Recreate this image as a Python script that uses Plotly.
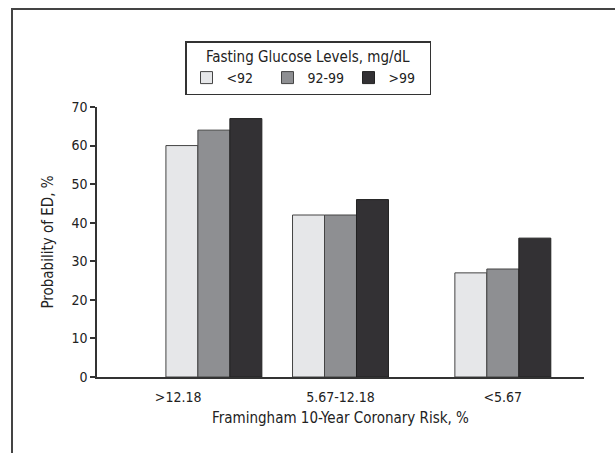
import plotly.graph_objects as go

categories = [">12.18", "5.67-12.18", "<5.67"]
series_names = ["<92", "92-99", ">99"]
glucose_lt92 = [60, 42, 27]
glucose_92_99 = [64, 42, 28]
glucose_gt99 = [67, 46, 36]
y_ticks = [0, 10, 20, 30, 40, 50, 60, 70]

series_values = [glucose_lt92, glucose_92_99, glucose_gt99]
colors = ["#e6e7e9", "#8e8f92", "#333134"]
outline = ["#444444", "#444444", "#222222"]
FONT = "DejaVu Sans Condensed, Liberation Sans Narrow, Arial Narrow, sans-serif"

bar_w = 0.197
group_shift = [0.22, 0.0, 0.0]

fig = go.Figure()
for i, (name, vals) in enumerate(zip(series_names, series_values)):
    offs = [-1.5 * bar_w + i * bar_w + s for s in group_shift]
    fig.add_trace(go.Bar(
        x=categories, y=vals, name=name,
        width=[bar_w] * len(categories), offset=offs,
        marker=dict(color=colors[i], line=dict(color=outline[i], width=1)),
    ))

fig.update_layout(
    width=615, height=453,
    margin=dict(l=97, r=31, t=107, b=76, autoexpand=False),
    paper_bgcolor="white", plot_bgcolor="white",
    font=dict(family=FONT, size=14, color="#222"),
    barmode="overlay",
    showlegend=True,
    legend=dict(
        orientation="h",
        title=dict(text="Fasting Glucose Levels, mg/dL", side="top center",
                   font=dict(size=15)),
        x=(308 - 97) / 487, xanchor="center", y=(377 - 41) / 270, yanchor="top",
        bordercolor="#333", borderwidth=1.5, bgcolor="white",
        entrywidth=36, entrywidthmode="pixels",
        font=dict(size=14),
        traceorder="normal",
    ),
    xaxis=dict(
        type="category", range=[-0.5, 2.5],
        showline=True, linecolor="#333", linewidth=1.5,
        ticks="", showgrid=False, zeroline=False,
        tickfont=dict(size=14), ticklabelstandoff=6,
        title=dict(text="Framingham 10-Year Coronary Risk, %", font=dict(size=15), standoff=9),
    ),
    yaxis=dict(
        range=[0, 70], tickvals=y_ticks,
        showline=True, linecolor="#333", linewidth=1.5,
        ticks="outside", ticklen=5, tickcolor="#333", tickwidth=1.5,
        showgrid=False, zeroline=False,
        tickfont=dict(size=14),
        title=dict(text="Probability of ED, %", font=dict(size=15), standoff=14),
    ),
    shapes=[dict(type="rect", xref="paper", yref="paper",
                 x0=(12 - 97) / 487, x1=(640 - 97) / 487,
                 y0=(377 - 480) / 270, y1=(377 - 9) / 270,
                 line=dict(color="#444", width=2), fillcolor="rgba(0,0,0,0)",
                 layer="below")],
)

fig.write_html(
    "out.html",
    config={"displayModeBar": False},
    post_script="document.body.style.margin='0';document.body.style.overflow='hidden';",
)
